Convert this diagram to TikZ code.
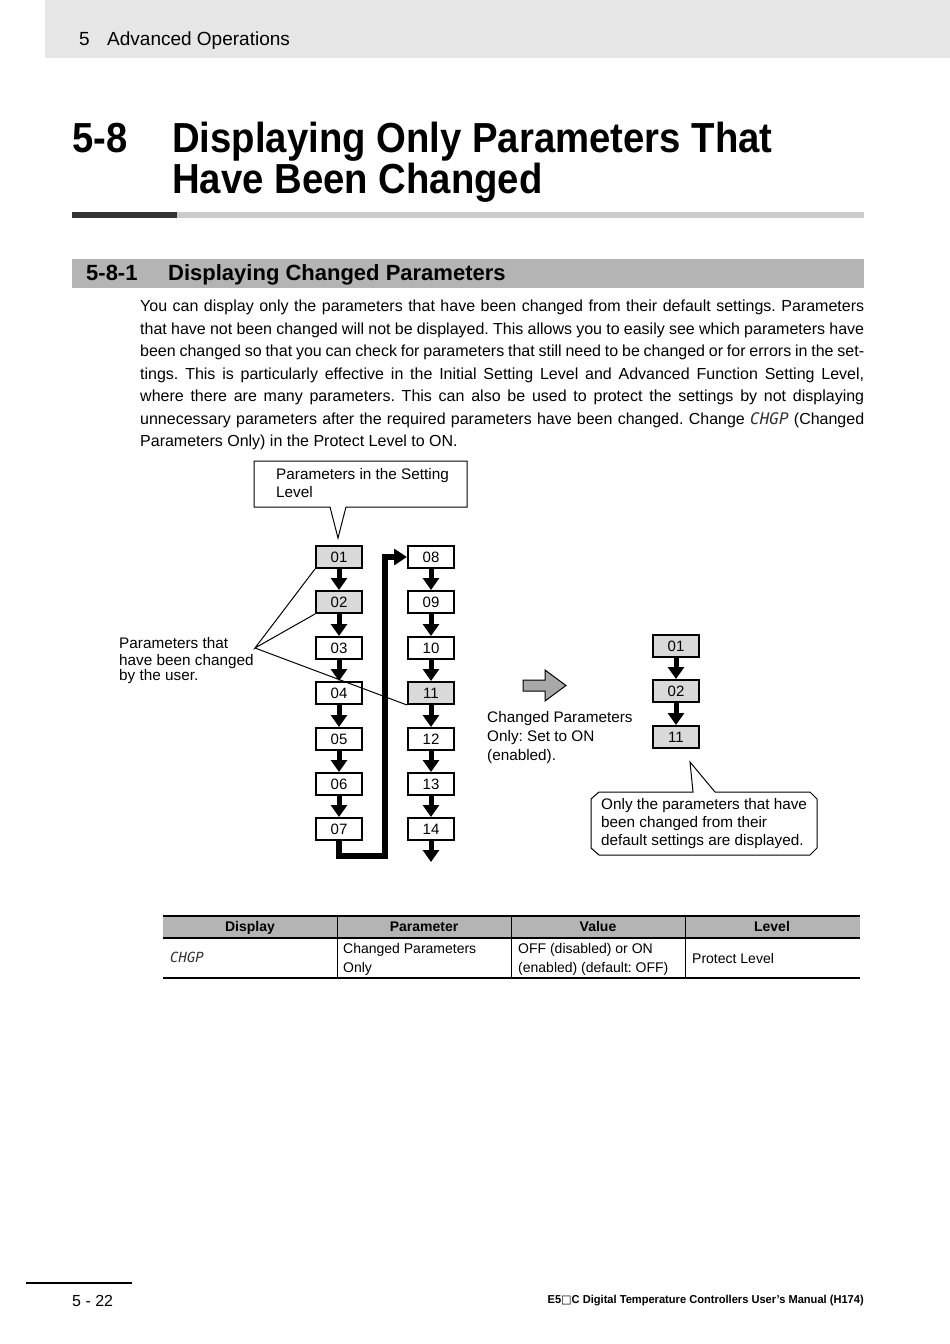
\documentclass[tikz,border=0pt]{standalone}
\usepackage{fontspec}
\setmainfont{Liberation Sans}
\newfontfamily\symfont{DejaVu Sans}
\newfontfamily\segfont{DejaVu Sans Mono}
\usetikzlibrary{arrows.meta}
\definecolor{hdrgray}{HTML}{E6E6E6}
\definecolor{rulegray}{HTML}{CCCCCC}
\definecolor{ruledark}{HTML}{333333}
\definecolor{secgray}{HTML}{B4B4B4}
\definecolor{boxgray}{HTML}{D9D9D9}
\definecolor{arrgray}{HTML}{A8A8A8}
\newcommand\seg[1]{{\segfont\itshape\color{black!80}#1}}
\frenchspacing
\begin{document}
\begin{tikzpicture}[x=1pt,y=-1pt,
  bodytxt/.style={anchor=base west,inner sep=0pt,font=\fontsize{16}{19}\selectfont},
  dtxt/.style={anchor=base west,inner sep=0pt,font=\fontsize{15.3}{17}\selectfont,align=left},
  pbox/.style={draw,line width=2pt,minimum width=46pt,minimum height=22pt,inner sep=0pt,fill=white,font=\fontsize{15}{17}\selectfont},
  gbox/.style={pbox,fill=boxgray},
  flow/.style={line width=5pt,-{Triangle[width=16pt,length=12pt]}},
  thtxt/.style={anchor=base,inner sep=0pt,font=\bfseries\fontsize{14}{16}\selectfont},
  tdtxt/.style={anchor=base west,inner sep=0pt,font=\fontsize{14}{16}\selectfont},
]
\useasboundingbox (0,0) rectangle (950,1344);
\fill[white] (0,0) rectangle (950,1344);
% header band
\fill[hdrgray] (45,0) rectangle (950,58);
\node[anchor=base west,inner sep=0pt,font=\fontsize{19}{21}\selectfont] (hnum) at (79,45) {5};
\node[anchor=base west,inner sep=0pt,font=\fontsize{19}{21}\selectfont] (htxt) at (107,45) {Advanced Operations};
% title
\node[anchor=base west,inner sep=0pt,font=\bfseries\fontsize{42}{46}\selectfont] (tnum) at (72,152) {\scalebox{0.91}[1]{5-8}};
\node[anchor=base west,inner sep=0pt,font=\bfseries\fontsize{42}{46}\selectfont] (t1) at (172,152) {\scalebox{0.912}[1]{Displaying Only Parameters That}};
\node[anchor=base west,inner sep=0pt,font=\bfseries\fontsize{42}{46}\selectfont] (t2) at (172,193) {\scalebox{0.912}[1]{Have Been Changed}};
\fill[ruledark] (72,212) rectangle (177,218);
\fill[rulegray] (177,212) rectangle (864,218);
% section band
\fill[secgray] (72,259) rectangle (864,288);
\node[anchor=base west,inner sep=0pt,font=\bfseries\fontsize{22}{24}\selectfont] (snum) at (86,280) {5-8-1};
\node[anchor=base west,inner sep=0pt,font=\bfseries\fontsize{22}{24}\selectfont] (stxt) at (168,280) {Displaying Changed Parameters};
% body
\node[bodytxt] (p1) at (140,311.5) {\makebox[724pt][s]{You can display only the parameters that have been changed from their default settings. Parameters}};
\node[bodytxt] (p2) at (140,334) {\makebox[724pt][s]{that have not been changed will not be displayed. This allows you to easily see which parameters have}};
\node[bodytxt] (p3) at (140,356.5) {\makebox[724pt][s]{been changed so that you can check for parameters that still need to be changed or for errors in the set-}};
\node[bodytxt] (p4) at (140,379) {\makebox[724pt][s]{tings. This is particularly effective in the Initial Setting Level and Advanced Function Setting Level,}};
\node[bodytxt] (p5) at (140,401.5) {\makebox[724pt][s]{where there are many parameters. This can also be used to protect the settings by not displaying}};
\node[bodytxt] (p6) at (140,424) {\makebox[724pt][s]{unnecessary parameters after the required parameters have been changed. Change \seg{CHGP} (Changed}};
\node[bodytxt] (p7) at (140,446.5) {Parameters Only) in the Protect Level to ON.};
% top callout
\draw[line width=1pt,fill=white] (254,461) -- (467,461) -- (467,507) -- (346,507) -- (338,538) -- (330,507) -- (254,507) -- cycle;
\node[dtxt] (c1t) at (276,479) {Parameters in the Setting};
\node[dtxt] (c1b) at (276,497) {Level};
% left column
\foreach \n/\y/\s in {01/557/gbox,02/602/gbox,03/648/pbox,04/693/pbox,05/739/pbox,06/784/pbox,07/829/pbox}
  \node[\s] (b\n) at (339,\y) {\n};
\foreach \n/\y/\s in {08/557/pbox,09/602/pbox,10/648/pbox,11/693/gbox,12/739/pbox,13/784/pbox,14/829/pbox}
  \node[\s] (b\n) at (431,\y) {\n};
\foreach \a/\b in {01/02,02/03,03/04,04/05,05/06,06/07,08/09,09/10,10/11,11/12,12/13,13/14}
  \draw[flow] (b\a.south) -- (b\b.north);
\coordinate (endA) at (431,862);
\draw[flow] (b14.south) -- (endA);
\coordinate (cc) at (385,856);
\draw[line width=5.5pt,-{Triangle[width=16pt,length=13pt]}] (b07.south) |- (cc) |- (b08.west);
% label lines
\node[dtxt] (lbl1) at (119,648) {Parameters that};
\node[dtxt] (lbl2) at (119,665) {have been changed};
\node[dtxt] (lbl3) at (119,680) {by the user.};
\coordinate (lp) at (255,648);
\draw[line width=1pt] (b01.south west) -- (lp) -- (b02.south west);
\draw[line width=1pt] (lp) -- (b11.south west);
% big arrow
\draw[line width=1pt,fill=arrgray] (523,680) -- (545,680) -- (545,670) -- (566,685.5) -- (545,701) -- (545,691) -- (523,691) -- cycle;
\node[dtxt] (ch1) at (487,722) {Changed Parameters};
\node[dtxt] (ch2) at (487,741) {Only: Set to ON};
\node[dtxt] (ch3) at (487,760) {(enabled).};
% right column
\node[gbox] (r01) at (676,646) {01};
\node[gbox] (r02) at (676,691) {02};
\node[gbox] (r11) at (676,737) {11};
\draw[flow] (r01.south) -- (r02.north);
\draw[flow] (r02.south) -- (r11.north);
% bottom callout
\draw[line width=1pt,fill=white] (599,792) -- (693,792) -- (690,762) -- (715,792) -- (810,792) -- (817,799) -- (817,848) -- (810,855) -- (599,855) -- (591,848) -- (591,799) -- cycle;
\node[dtxt] (o1) at (601,809) {Only the parameters that have};
\node[dtxt] (o2) at (601,827) {been changed from their};
\node[dtxt] (o3) at (601,845) {default settings are displayed.};
% table
\fill[secgray] (163,916) rectangle (860,938);
\draw[line width=2pt] (163,916) -- (860,916);
\draw[line width=1.6pt] (163,938) -- (860,938);
\draw[line width=1.6pt] (163,978) -- (860,978);
\foreach \x in {337,511,685} \draw[line width=0.8pt] (\x,916) -- (\x,978);
\node[thtxt] (h1) at (250,931) {Display};
\node[thtxt] (h2) at (424,931) {Parameter};
\node[thtxt] (h3) at (598,931) {Value};
\node[thtxt] (h4) at (772,931) {Level};
\node[tdtxt] (d1) at (170,962) {\seg{CHGP}};
\node[tdtxt] (d2a) at (343,953) {Changed Parameters};
\node[tdtxt] (d2b) at (343,972) {Only};
\node[tdtxt] (d3a) at (518,953) {OFF (disabled) or ON};
\node[tdtxt] (d3b) at (518,972) {(enabled) (default: OFF)};
\node[tdtxt] (d4) at (692,963) {Protect Level};
% footer
\draw[line width=1.5pt] (26,1283) -- (132,1283);
\node[anchor=base west,inner sep=0pt,font=\fontsize{16}{18}\selectfont] (pg) at (72,1306) {5 - 22};
\node[anchor=base east,inner sep=0pt,font=\bfseries\fontsize{11.5}{13}\selectfont] (ft) at (864,1303) {\scalebox{0.965}[1]{E5{\symfont □}C Digital Temperature Controllers User’s Manual (H174)}};
\end{tikzpicture}
\end{document}
